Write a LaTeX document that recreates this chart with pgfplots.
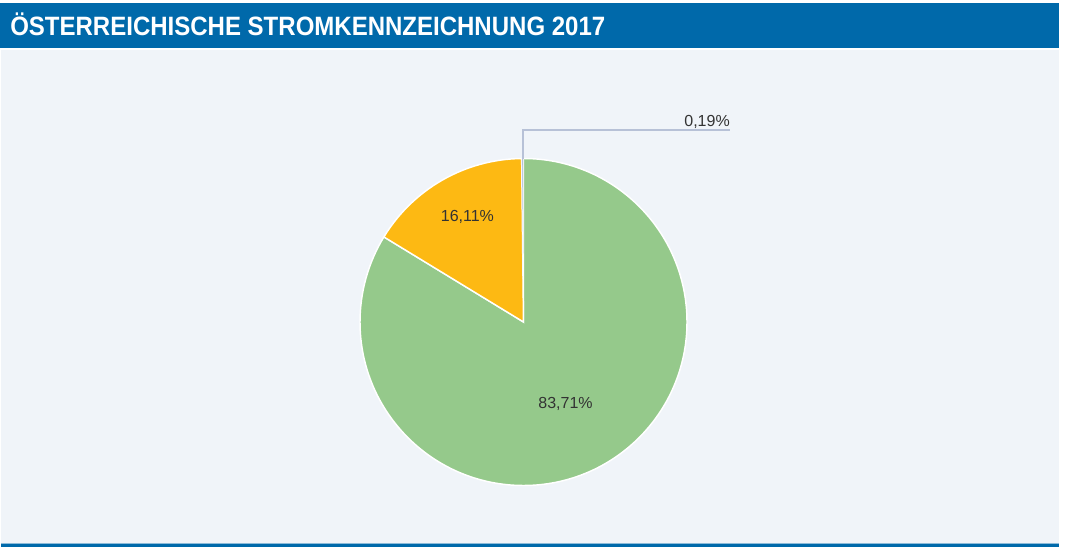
\documentclass[border=0pt]{standalone}
\usepackage{pgfplots}
\pgfplotsset{compat=1.18}
\usepackage{pgfplotstable}
\usepackage{fontspec}
\setmainfont{Liberation Sans}

\definecolor{titelblau}{HTML}{0069AA}
\definecolor{hintergrund}{HTML}{F0F4F9}
\definecolor{gruen}{HTML}{95C98B}
\definecolor{orange}{HTML}{FDB913}
\definecolor{grau}{HTML}{B7C1D7}
\definecolor{schrift}{HTML}{333333}

% Anteile in Prozent, im Uhrzeigersinn ab 12 Uhr
\pgfplotstableread{
anteil
83.71
16.11
0.19
}\stromdata

\begin{document}
\begin{tikzpicture}[x=0.75pt, y=0.75pt]
\useasboundingbox (0,0) rectangle (1065,547);
% Rahmen
\fill[hintergrund] (1,3) rectangle (1059,497);
\fill[titelblau] (0,499) rectangle (1059,544);
\fill[titelblau] (1,0) rectangle (1059,3);
\fill[titelblau!45] (1,3) rectangle (1059,4);
\node[anchor=base west, inner sep=0pt, text=white] at (10,511)
  {\scalebox{0.905}[1]{\fontsize{19.9pt}{20pt}\selectfont\bfseries ÖSTERREICHISCHE STROMKENNZEICHNUNG 2017}};

\pgfplotstablegetelem{0}{anteil}\of\stromdata \let\vA\pgfplotsretval
\pgfplotstablegetelem{1}{anteil}\of\stromdata \let\vB\pgfplotsretval
\pgfplotstablegetelem{2}{anteil}\of\stromdata \let\vC\pgfplotsretval
\pgfmathsetmacro{\aA}{90-3.6*\vA}
\pgfmathsetmacro{\aB}{\aA-3.6*\vB}
\pgfmathsetmacro{\aC}{\aB-3.6*\vC}

\begin{axis}[
  at={(392.625pt,168.75pt)}, anchor=center,
  scale only axis, width=245.25pt, height=245.25pt,
  xmin=-1, xmax=1, ymin=-1, ymax=1,
  hide axis, clip=false,
]
\fill[gruen, draw=white, line width=1.1pt] (axis cs:0,0) -- (axis cs:0,1)
  arc[start angle=90, end angle=\aA, radius=122.625pt] -- cycle;
\fill[orange, draw=white, line width=1.1pt] (axis cs:0,0) -- (axis cs:{cos(\aA)},{sin(\aA)})
  arc[start angle=\aA, end angle=\aB, radius=122.625pt] -- cycle;
\fill[grau, draw=white, line width=0.4pt] (axis cs:0,0) -- (axis cs:{cos(\aB)},{sin(\aB)})
  arc[start angle=\aB, end angle=\aC, radius=122.625pt] -- cycle;
\node[text=schrift, font=\fontsize{12pt}{14pt}\selectfont] at (axis cs:0.257,-0.502) {83,71\%};
\node[text=schrift, font=\fontsize{12pt}{14pt}\selectfont] at (axis cs:-0.343,0.642) {16,11\%};
\end{axis}

% Hinweislinie für den kleinen Anteil
\draw[grau, line width=0.9pt] (523,388) -- (523,417) -- (730,417);
\node[anchor=base east, inner sep=0pt, text=schrift, font=\fontsize{12pt}{14pt}\selectfont] at (730,420) {0,19\%};
\end{tikzpicture}
\end{document}
